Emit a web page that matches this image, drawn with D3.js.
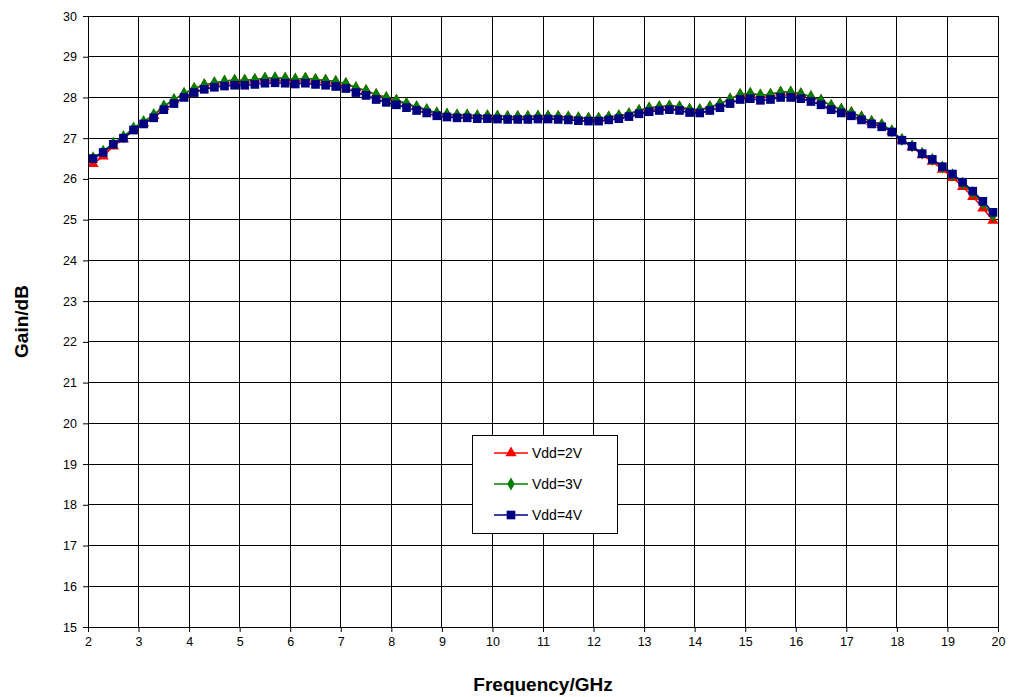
<!DOCTYPE html>
<html><head><meta charset="utf-8">
<script src="https://cdn.jsdelivr.net/npm/d3@7"></script>
<style>body{margin:0;background:#fff;font-family:"Liberation Sans",Arial,sans-serif}</style>
</head><body><svg id="c" width="1014" height="697"></svg>
<script>
// frequency points (GHz)
const freq = d3.range(90).map(i => +(2.1 + i * 0.2).toFixed(1));
const vdd4 = [26.5,26.65,26.85,27.0,27.2,27.35,27.5,27.7,27.85,28.0,
  28.12,28.2,28.25,28.28,28.3,28.3,28.32,28.35,28.36,28.35,
  28.33,28.35,28.32,28.3,28.27,28.22,28.12,28.05,27.95,27.88,
  27.82,27.75,27.68,27.62,27.55,27.52,27.5,27.5,27.48,27.48,
  27.47,27.46,27.46,27.46,27.47,27.47,27.46,27.45,27.43,27.42,
  27.42,27.45,27.48,27.53,27.6,27.65,27.68,27.7,27.68,27.63,
  27.62,27.68,27.75,27.85,27.95,27.97,27.93,27.95,28.0,28.0,
  27.97,27.9,27.82,27.7,27.62,27.55,27.45,27.35,27.28,27.15,
  26.95,26.8,26.62,26.48,26.3,26.12,25.92,25.7,25.45,25.18];
const vdd3 = [26.52,26.68,26.88,27.04,27.25,27.41,27.58,27.79,27.95,28.1,
  28.22,28.31,28.36,28.4,28.42,28.42,28.44,28.47,28.48,28.47,
  28.45,28.47,28.44,28.42,28.39,28.34,28.24,28.17,28.07,28.0,
  27.93,27.85,27.77,27.7,27.62,27.59,27.57,27.57,27.55,27.55,
  27.54,27.53,27.53,27.53,27.54,27.54,27.53,27.52,27.5,27.49,
  27.49,27.52,27.55,27.6,27.68,27.74,27.77,27.79,27.77,27.71,
  27.7,27.77,27.85,27.96,28.07,28.1,28.06,28.08,28.13,28.13,
  28.09,28.02,27.93,27.8,27.71,27.63,27.52,27.41,27.33,27.18,
  26.97,26.81,26.63,26.48,26.29,26.1,25.89,25.66,25.4,25.1];
const vdd2 = [26.37,26.56,26.8,26.98,27.2,27.37,27.55,27.77,27.94,28.09,
  28.22,28.31,28.36,28.4,28.42,28.42,28.44,28.47,28.48,28.47,
  28.45,28.47,28.44,28.42,28.39,28.34,28.24,28.17,28.07,28.0,
  27.93,27.85,27.77,27.7,27.62,27.59,27.57,27.57,27.55,27.55,
  27.54,27.53,27.53,27.53,27.54,27.54,27.53,27.52,27.5,27.49,
  27.49,27.52,27.55,27.6,27.68,27.74,27.77,27.79,27.77,27.71,
  27.7,27.77,27.85,27.96,28.07,28.1,28.06,28.08,28.13,28.13,
  28.09,28.02,27.93,27.8,27.71,27.63,27.52,27.41,27.33,27.17,
  26.95,26.78,26.59,26.43,26.23,26.03,25.81,25.56,25.28,24.98];
const seriesNames = ["Vdd=2V", "Vdd=3V", "Vdd=4V"];
const seriesValues = [vdd2, vdd3, vdd4];
const xTicks = d3.range(2, 21);
const yTicks = d3.range(15, 31);

const colors = ["#ff0000", "#008000", "#000080"];
const symbols = [d3.symbolTriangle, d3.symbolDiamond, d3.symbolSquare];
const sizes = [55, 50, 75];

const m = {left: 88, right: 998, top: 16, bottom: 627};
const svg = d3.select("#c");
const x = d3.scaleLinear().domain([2, 20]).range([m.left, m.right]);
const y = d3.scaleLinear().domain([15, 30]).range([m.bottom, m.top]);

svg.append("defs").append("clipPath").attr("id", "clip")
  .append("rect").attr("x", m.left).attr("y", m.top)
  .attr("width", m.right - m.left).attr("height", m.bottom - m.top);

// grid
svg.append("g").selectAll("line").data(xTicks).join("line")
  .attr("x1", d => x(d)).attr("x2", d => x(d)).attr("y1", m.top).attr("y2", m.bottom)
  .attr("stroke", "#000").attr("stroke-width", 1).attr("shape-rendering", "crispEdges");
svg.append("g").selectAll("line").data(yTicks).join("line")
  .attr("y1", d => y(d)).attr("y2", d => y(d)).attr("x1", m.left).attr("x2", m.right)
  .attr("stroke", "#000").attr("stroke-width", 1).attr("shape-rendering", "crispEdges");

const xAxis = svg.append("g").attr("transform", `translate(0,${m.bottom})`)
  .call(d3.axisBottom(x).tickValues(xTicks).tickSize(5).tickPadding(5).tickFormat(d3.format("d")));
const yAxis = svg.append("g").attr("transform", `translate(${m.left},0)`)
  .call(d3.axisLeft(y).tickValues(yTicks).tickSize(5).tickPadding(6).tickFormat(d3.format("d")));
[xAxis, yAxis].forEach(a => {
  a.selectAll("text").attr("font-size", 12.5).attr("fill", "#000")
    .attr("font-family", "Liberation Sans, Arial, sans-serif");
  a.select(".domain").remove();
});

const line = d3.line().x(d => x(d[0])).y(d => y(d[1])).curve(d3.curveCatmullRom);
const plot = svg.append("g").attr("clip-path", "url(#clip)");
seriesValues.forEach((vals, k) => {
  const pts = freq.map((f, i) => [f, vals[i]]);
  plot.append("path").datum(pts).attr("fill", "none")
    .attr("stroke", colors[k]).attr("stroke-width", 1.5).attr("d", line);
  plot.append("g").selectAll("path").data(pts).join("path")
    .attr("transform", d => `translate(${x(d[0])},${y(d[1])})`)
    .attr("d", d3.symbol().type(symbols[k]).size(sizes[k]))
    .attr("fill", colors[k]);
});

svg.append("rect").attr("x", m.left).attr("y", m.top)
  .attr("width", m.right - m.left).attr("height", m.bottom - m.top)
  .attr("fill", "none").attr("stroke", "#000").attr("shape-rendering", "crispEdges");

// legend
const lg = svg.append("g").attr("transform", "translate(472,435)");
lg.append("rect").attr("width", 145).attr("height", 98).attr("fill", "#fff")
  .attr("stroke", "#000").attr("shape-rendering", "crispEdges");
seriesNames.forEach((n, k) => {
  const yy = 18 + k * 31;
  lg.append("line").attr("x1", 22).attr("x2", 56).attr("y1", yy).attr("y2", yy)
    .attr("stroke", colors[k]).attr("stroke-width", 1.5);
  lg.append("path").attr("transform", `translate(39,${yy})`)
    .attr("d", d3.symbol().type(symbols[k]).size(sizes[k])).attr("fill", colors[k]);
  lg.append("text").attr("x", 60).attr("y", yy + 5).attr("font-size", 14).text(n);
});

svg.append("text").attr("x", (m.left + m.right) / 2).attr("y", 691)
  .attr("text-anchor", "middle").attr("font-size", 19).attr("font-weight", "bold").text("Frequency/GHz");
svg.append("text").attr("transform", `translate(28,${(m.top + m.bottom) / 2}) rotate(-90)`)
  .attr("text-anchor", "middle").attr("font-size", 19).attr("font-weight", "bold").text("Gain/dB");
</script></body></html>
